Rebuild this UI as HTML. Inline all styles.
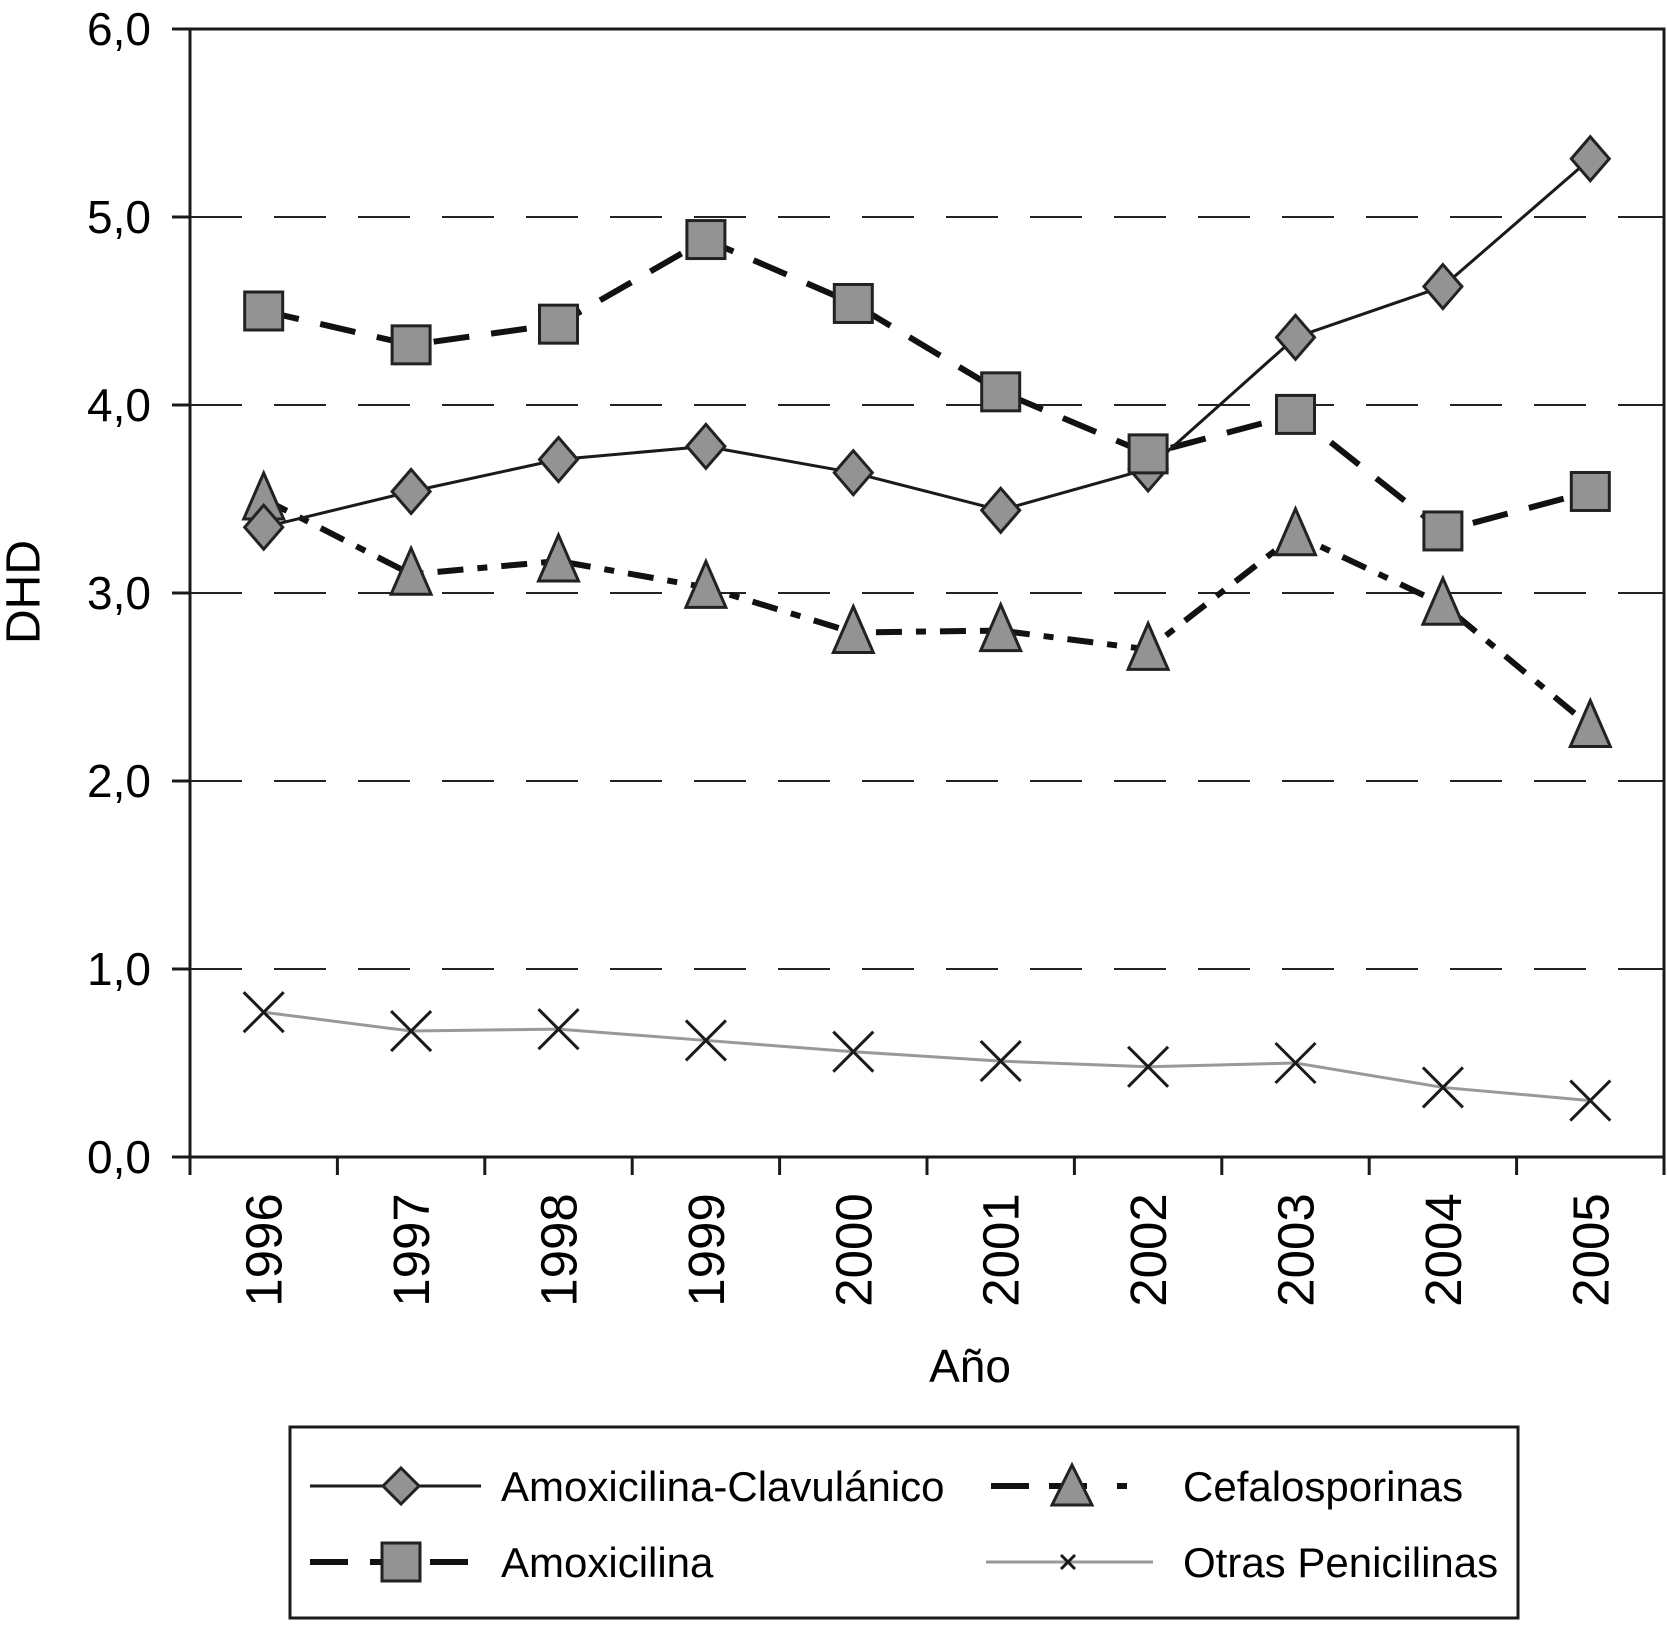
<!DOCTYPE html>
<html><head><meta charset="utf-8">
<style>
html,body{margin:0;padding:0;background:#fff;}
svg{display:block;font-family:"Liberation Sans",Arial,sans-serif;}
</style></head>
<body>
<svg id="chart" width="1667" height="1630" viewBox="0 0 1667 1630" xmlns="http://www.w3.org/2000/svg">
<g id="grid"></g>
<g id="axes"></g>
<g id="series"></g>
<text x="27" y="592" font-size="48" text-anchor="middle" transform="rotate(-90 27 592)" dominant-baseline="middle">DHD</text>
<text x="970" y="1382" font-size="46" text-anchor="middle">Año</text>
<g>
<rect x="290" y="1427" width="1228" height="191" fill="#fff" stroke="#1a1a1a" stroke-width="3"/>
<g>
<line x1="310" y1="1486" x2="481" y2="1486" stroke="#1a1a1a" stroke-width="3"/>
<polygon points="401,1468 419,1486 401,1504 383,1486" fill="#939393" stroke="#222" stroke-width="3"/>
<text x="501" y="1501" font-size="42">Amoxicilina-Clavulánico</text>
</g>
<g>
<line x1="991" y1="1486" x2="1153" y2="1486" stroke="#111" stroke-width="6" stroke-dasharray="38,20,38,30,10,100"/>
<polygon points="1072,1465 1092,1505 1052,1505" fill="#939393" stroke="#222" stroke-width="3"/>
<text x="1183" y="1501" font-size="42">Cefalosporinas</text>
</g>
<g>
<line x1="310" y1="1562" x2="481" y2="1562" stroke="#111" stroke-width="6" stroke-dasharray="38,22"/>
<rect x="382" y="1543" width="38" height="38" fill="#939393" stroke="#222" stroke-width="3"/>
<text x="501" y="1577" font-size="42">Amoxicilina</text>
</g>
<g>
<line x1="986" y1="1562" x2="1153" y2="1562" stroke="#999" stroke-width="3"/>
<path d="M1061,1555 L1075,1569 M1075,1555 L1061,1569" stroke="#1a1a1a" stroke-width="3"/>
<text x="1183" y="1577" font-size="42">Otras Penicilinas</text>
</g>
</g>
</svg>
<script>
const years = ["1996","1997","1998","1999","2000","2001","2002","2003","2004","2005"];
const amoxClav = [3.35,3.54,3.71,3.78,3.64,3.44,3.66,4.36,4.63,5.31];
const amoxicilina = [4.50,4.32,4.43,4.88,4.54,4.07,3.74,3.95,3.33,3.54];
const cefalosporinas = [3.50,3.10,3.17,3.03,2.79,2.80,2.70,3.31,2.94,2.29];
const otrasPenicilinas = [0.77,0.67,0.68,0.62,0.56,0.51,0.48,0.50,0.37,0.30];
const yTicks = [0,1,2,3,4,5,6];
const yTickLabels = ["0,0","1,0","2,0","3,0","4,0","5,0","6,0"];

const NS = "http://www.w3.org/2000/svg";
const L = 190, R = 1664, T = 29, B = 1157;
const yMax = 6;
const band = (R - L) / years.length;
function xPos(i){ return L + band * (i + 0.5); }
function yPos(v){ return B - (v / yMax) * (B - T); }
function mk(tag, attrs, parent){ const e = document.createElementNS(NS, tag); for (const k in attrs) e.setAttribute(k, attrs[k]); parent.appendChild(e); return e; }

const grid = document.getElementById('grid');
const axes = document.getElementById('axes');
const series = document.getElementById('series');

yTicks.forEach((v, i) => {
  const y = yPos(v);
  if (v > 0 && v < yMax) {
    const g = mk('line', {x1: L, x2: R, y1: y, y2: y, stroke: '#222', 'stroke-width': 2, 'stroke-dasharray': '52,32'}, grid);
    
    
  }
  const tk = mk('line', {x1: L - 18, x2: L, y1: y, y2: y, stroke: '#1a1a1a', 'stroke-width': 3}, axes);
  
  
  const t = mk('text', {x: 151, y: y + 16, 'font-size': 46, 'text-anchor': 'end'}, axes);
  t.textContent = yTickLabels[i];
  
  
});

const frame = mk('rect', {x: L, y: T, width: R - L, height: B - T, fill: 'none', stroke: '#1a1a1a', 'stroke-width': 3}, axes);



for (let i = 0; i <= years.length; i++) {
  const x = L + band * i;
  const tk = mk('line', {x1: x, x2: x, y1: B, y2: B + 18, stroke: '#1a1a1a', 'stroke-width': 3}, axes);
  
  
}
years.forEach((yr, i) => {
  const x = xPos(i) + 18, y = 1250;
  const t = mk('text', {x: x, y: y, 'font-size': 51, 'text-anchor': 'middle', transform: `rotate(-90 ${x} ${y})`}, axes);
  t.textContent = yr;
  
  
});

function drawLine(vals, attrs, name){
  const pts = vals.map((v, i) => xPos(i) + ',' + yPos(v)).join(' ');
  const p = mk('polyline', Object.assign({points: pts, fill: 'none'}, attrs), series);
  
  
}

drawLine(otrasPenicilinas, {stroke: '#999', 'stroke-width': 3}, 'line-otras-penicilinas');
drawLine(cefalosporinas, {stroke: '#111', 'stroke-width': 6, 'stroke-dasharray': '26,14,10,14'}, 'line-cefalosporinas');
drawLine(amoxicilina, {stroke: '#111', 'stroke-width': 6, 'stroke-dasharray': '36,22'}, 'line-amoxicilina');
drawLine(amoxClav, {stroke: '#1a1a1a', 'stroke-width': 3}, 'line-amox-clav');

otrasPenicilinas.forEach((v, i) => {
  const x = xPos(i), y = yPos(v), s = 20;
  const m = mk('path', {d: `M${x-s},${y-s} L${x+s},${y+s} M${x+s},${y-s} L${x-s},${y+s}`, stroke: '#1a1a1a', 'stroke-width': 3}, series);
  
  
});
cefalosporinas.forEach((v, i) => {
  const x = xPos(i), y = yPos(v);
  const m = mk('polygon', {points: `${x},${y-26} ${x+20},${y+20} ${x-20},${y+20}`, fill: '#939393', stroke: '#222', 'stroke-width': 3}, series);
  
  
});
amoxClav.forEach((v, i) => {
  const x = xPos(i), y = yPos(v);
  const m = mk('polygon', {points: `${x},${y-22} ${x+19},${y} ${x},${y+22} ${x-19},${y}`, fill: '#939393', stroke: '#222', 'stroke-width': 3}, series);
  
  
});
amoxicilina.forEach((v, i) => {
  const x = xPos(i), y = yPos(v);
  const m = mk('rect', {x: x - 19, y: y - 19, width: 38, height: 38, fill: '#939393', stroke: '#222', 'stroke-width': 3}, series);
  
  
});
</script>
</body></html>
